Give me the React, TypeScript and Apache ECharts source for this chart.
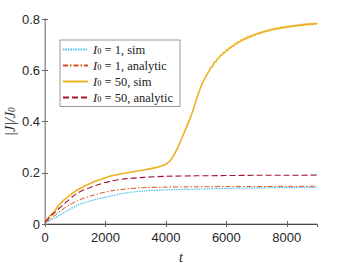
import React, { useEffect, useRef } from "react";
import * as echarts from "echarts";

const tSmooth = [0, 150, 300, 630, 1070, 1620, 2170, 2720, 3280, 4000, 5000, 6000, 7000, 8000, 9000];
const sim1 = [0.005, 0.013, 0.022, 0.044, 0.073, 0.094, 0.109, 0.122, 0.129, 0.133, 0.136, 0.139, 0.141, 0.142, 0.143];
const analytic1 = [0.005, 0.017, 0.031, 0.061, 0.091, 0.113, 0.129, 0.137, 0.142, 0.144, 0.145, 0.146, 0.146, 0.147, 0.147];
const analytic50 = [0.008, 0.025, 0.043, 0.078, 0.12, 0.148, 0.167, 0.177, 0.182, 0.186, 0.188, 0.189, 0.19, 0.19, 0.191];

const tSim50 = [
  0, 150, 300, 450, 630, 850, 1070, 1350, 1620, 1900, 2170, 2450, 2720, 3000, 3280, 3500, 3700, 3850, 4000,
  4100, 4200, 4300, 4400, 4500, 4600, 4700, 4800, 4900, 5000, 5100, 5200, 5300, 5400,
  5500, 5550, 5600, 5650, 5700, 5750, 5800, 5850, 5900, 5950, 6000, 6050, 6100, 6150, 6200, 6250, 6300, 6350,
  6400, 6450, 6500, 6550, 6600, 6650, 6700, 6750, 6800, 6850, 6900, 6950, 7000, 7050, 7100, 7150, 7200, 7250,
  7300, 7350, 7400, 7450, 7500, 7550, 7600, 7650, 7700, 7750, 7800, 7850, 7900, 7950, 8000, 8050, 8100, 8150,
  8200, 8250, 8300, 8350, 8400, 8450, 8500, 8550, 8600, 8650, 8700, 8750, 8800, 8850, 8900, 8950, 9000,
];
const sim50 = [
  0.008, 0.03, 0.048, 0.072, 0.094, 0.115, 0.133, 0.15, 0.165, 0.177, 0.187, 0.194, 0.2, 0.206, 0.211, 0.216, 0.221, 0.226, 0.233,
  0.242, 0.256, 0.276, 0.3, 0.327, 0.355, 0.383, 0.412, 0.445, 0.482, 0.518, 0.548, 0.571, 0.592,
  0.613, 0.616, 0.631, 0.632, 0.645, 0.646, 0.658, 0.658, 0.669, 0.668, 0.679, 0.678, 0.688, 0.687, 0.697, 0.695, 0.705, 0.703,
  0.712, 0.71, 0.719, 0.716, 0.725, 0.722, 0.73, 0.727, 0.735, 0.732, 0.74, 0.736, 0.744, 0.74, 0.748, 0.744, 0.752, 0.748,
  0.755, 0.751, 0.758, 0.754, 0.761, 0.757, 0.764, 0.759, 0.766, 0.761, 0.768, 0.763, 0.77, 0.765, 0.772, 0.767, 0.774, 0.769,
  0.775, 0.77, 0.777, 0.772, 0.778, 0.773, 0.78, 0.775, 0.781, 0.776, 0.782, 0.777, 0.783, 0.778, 0.784, 0.779, 0.785,
];

const xTicks = [0, 2000, 4000, 6000, 8000];
const yTicks = [0, 0.2, 0.4, 0.6, 0.8];

const seriesNames = ["s1", "a1", "s50", "a50"];
const legendLabels: Record<string, string> = {
  s1: "{i|I}{s|0}{n| = 1, sim}",
  a1: "{i|I}{s|0}{n| = 1, analytic}",
  s50: "{i|I}{s|0}{n| = 50, sim}",
  a50: "{i|I}{s|0}{n| = 50, analytic}",
};

const zip = (xs: number[], ys: number[]) => xs.map((x, i) => [x, ys[i]]);

export default function App() {
  const ref = useRef<HTMLDivElement>(null);
  useEffect(() => {
    if (!ref.current) return;
    const chart = echarts.init(ref.current, null, { renderer: "svg" });
    const serif = "'Liberation Serif', 'DejaVu Serif', serif";
    const sans = "'Liberation Sans', Arial, sans-serif";
    const dark = "#4a4a4a";
    const light = "#b4b4b4";
    const rich = {
      i: { fontFamily: serif, fontStyle: "italic", fontSize: 12.5, color: "#222", lineHeight: 12 },
      s: { fontFamily: serif, fontSize: 8.5, color: "#222", lineHeight: 12, verticalAlign: "bottom", padding: [4, 0, 0, 0] },
      n: { fontFamily: serif, fontSize: 12.5, color: "#222", lineHeight: 12 },
    };
    chart.setOption({
      animation: false,
      backgroundColor: "#fff",
      grid: { left: 45, right: 33, top: 19, bottom: 39, containLabel: false, outerBoundsMode: "none" },
      legend: {
        data: seriesNames,
        orient: "vertical",
        left: 60,
        top: 40,
        padding: [2.5, 7, 2.5, 2],
        itemWidth: 25,
        itemHeight: 12,
        itemGap: 2.5,
        backgroundColor: "#fff",
        borderColor: "#999",
        borderWidth: 1,
        borderRadius: 0,
        itemStyle: { opacity: 0 },
        formatter: (name: string) => legendLabels[name],
        textStyle: { rich, lineHeight: 12 },
      },
      xAxis: [
        {
          type: "value",
          min: 0,
          max: 9000,
          interval: 2000,
          name: "{t|t}",
          nameLocation: "middle",
          nameGap: 26,
          nameMoveOverlap: false,
          nameTextStyle: { rich: { t: { fontFamily: serif, fontStyle: "italic", fontSize: 14, color: "#222" } } },
          axisLine: { show: true, lineStyle: { color: light, width: 1.5 } },
          axisTick: { show: true, inside: true, length: 3, lineStyle: { color: "#666" } },
          axisLabel: {
            fontFamily: sans,
            fontSize: 13,
            color: "#262626",
            margin: 7,
            showMaxLabel: false,
            formatter: (v: number) => (xTicks.includes(v) ? String(v) : ""),
          },
          splitLine: { show: false },
        },
        {
          type: "value",
          position: "top",
          min: 0,
          max: 9000,
          interval: 2000,
          axisLine: { show: true, lineStyle: { color: dark, width: 1 } },
          axisTick: { show: true, inside: true, length: 3, lineStyle: { color: "#666" } },
          axisLabel: { show: false },
          splitLine: { show: false },
        },
      ],
      yAxis: [
        {
          type: "value",
          min: 0,
          max: 0.8,
          interval: 0.2,
          name: "{a||J|/J}{b|0}",
          nameLocation: "middle",
          nameGap: 28,
          nameMoveOverlap: false,
          nameTextStyle: {
            rich: {
              a: { fontFamily: serif, fontStyle: "italic", fontSize: 14, color: "#222", lineHeight: 14 },
              b: { fontFamily: serif, fontStyle: "italic", fontSize: 9.5, color: "#222", lineHeight: 14, verticalAlign: "bottom" },
            },
          },
          axisLine: { show: true, lineStyle: { color: dark, width: 1 } },
          axisTick: { show: true, inside: true, length: 3, lineStyle: { color: "#666" } },
          axisLabel: {
            fontFamily: sans,
            fontSize: 13,
            color: "#262626",
            margin: 5,
            formatter: (v: number) => (yTicks.includes(Math.round(v * 10) / 10) ? (v === 0 ? "0" : v.toFixed(1)) : ""),
          },
          splitLine: { show: false },
        },
        {
          type: "value",
          position: "right",
          min: 0,
          max: 0.8,
          interval: 0.2,
          axisLine: { show: true, lineStyle: { color: light, width: 1.5 } },
          axisTick: { show: true, inside: true, length: 3, lineStyle: { color: "#666" } },
          axisLabel: { show: false },
          splitLine: { show: false },
        },
      ],
      series: [
        {
          name: "s1",
          type: "line",
          data: zip(tSmooth, sim1),
          smooth: 0.3,
          symbol: "none",
          lineStyle: { color: "#4DBEEE", width: 1.2, type: [1.5, 1] },
          itemStyle: { color: "#4DBEEE" },
        },
        {
          name: "a1",
          type: "line",
          data: zip(tSmooth, analytic1),
          smooth: 0.3,
          symbol: "none",
          lineStyle: { color: "#D95319", width: 1, type: [5, 2, 1.5, 2] },
          itemStyle: { color: "#D95319" },
        },
        {
          name: "s50",
          type: "line",
          data: zip(tSim50, sim50),
          smooth: false,
          symbol: "none",
          lineStyle: { color: "#EDB120", width: 1.6 },
          itemStyle: { color: "#EDB120" },
        },
        {
          name: "a50",
          type: "line",
          data: zip(tSmooth, analytic50),
          smooth: 0.3,
          symbol: "none",
          lineStyle: { color: "#A2142F", width: 1.1, type: [6, 3] },
          itemStyle: { color: "#A2142F" },
        },
      ],
    });
    return () => chart.dispose();
  }, []);
  return <div ref={ref} style={{ width: 350, height: 263, position: "absolute", left: 0, top: 0 }} />;
}
